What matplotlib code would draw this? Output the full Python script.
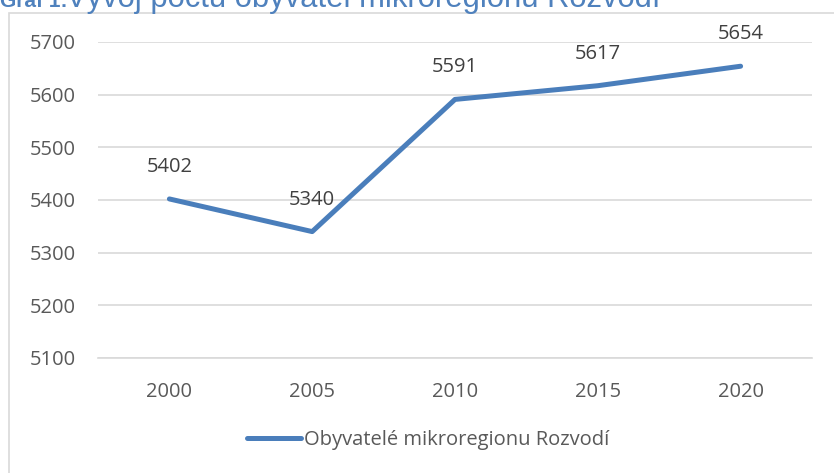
import matplotlib.pyplot as plt
from matplotlib.patches import Rectangle

plt.rcParams['font.family'] = ['Open Sans', 'DejaVu Sans']

roky = ['2000', '2005', '2010', '2015', '2020']
obyvatele = [5402, 5340, 5591, 5617, 5654]
yticks = [5100, 5200, 5300, 5400, 5500, 5600, 5700]
nazev_serie = 'Obyvatelé mikroregionu Rozvodí'

W, H = 834, 473
fig = plt.figure(figsize=(W / 100, H / 100), dpi=100)
ax = fig.add_axes([98 / W, 1 - 358 / H, (812 - 98) / W, (358 - 42) / H])

modra = '#4A7EBB'
seda_text = '#595959'

# ramecek grafu (jen levy a horni okraj je videt)
fig.patches.append(Rectangle((9 / W, -0.1), 1.2, 1.1 - 13 / H, transform=fig.transFigure,
                             fill=False, edgecolor='#D9D9D9', lw=1.2))

# nazev je orezany nahore
fig.text(0.0, 1 - 7 / H, 'Graf 1:', color='#4F81BD', fontsize=15, fontweight='bold',
         family='Liberation Sans', va='baseline', ha='left')
fig.text(66 / W, 1 - 7 / H, 'Vývoj počtu obyvatel mikroregionu Rozvodí', color='#4F81BD',
         fontsize=22.3, family='Liberation Sans', va='baseline', ha='left')

x = range(len(roky))
ax.plot(x, obyvatele, color=modra, lw=3.6, solid_capstyle='round', solid_joinstyle='round',
        label=nazev_serie, zorder=3)
for xi, v in zip(x, obyvatele):
    ax.annotate(str(v), (xi, v), xytext=(0, 23), textcoords='offset points',
                ha='center', va='center', fontsize=14.5, color='#404040')

ax.set_xlim(-0.5, len(roky) - 0.5)
ax.set_ylim(5100, 5700)
ax.set_yticks(yticks)
ax.set_xticks(list(x))
ax.set_xticklabels(roky)
ax.grid(axis='y', color='#D9D9D9', lw=1.2)
ax.set_axisbelow(True)
for s in ax.spines.values():
    s.set_visible(False)
ax.spines['bottom'].set_visible(True)
ax.spines['bottom'].set_color('#D9D9D9')
ax.spines['bottom'].set_linewidth(1.2)
ax.tick_params(length=0, labelsize=14.5, colors=seda_text, pad=16)
ax.tick_params(axis='x', pad=17)

fig.legend(loc='center', bbox_to_anchor=(428 / W, 1 - 440 / H), frameon=False,
           fontsize=14.5, labelcolor=seda_text, handlelength=2.7, handletextpad=0.15)

fig.savefig('out.png', dpi=100)
